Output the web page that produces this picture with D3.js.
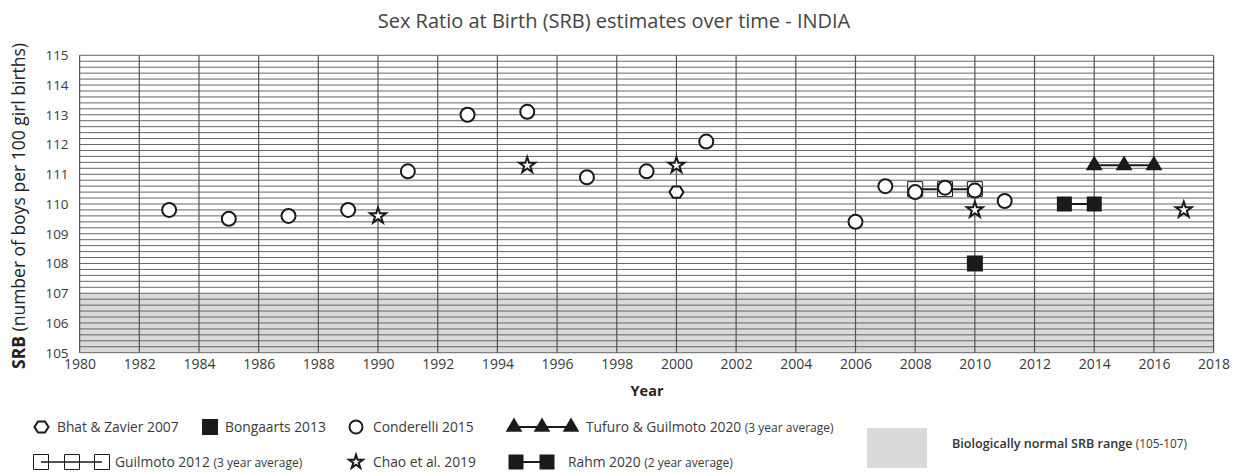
<!DOCTYPE html>
<html>
<head>
<meta charset="utf-8">
<script src="https://cdn.jsdelivr.net/npm/d3@7"></script>
<style>
  body { margin: 0; background: #fff; }
  svg { display: block; font-family: "Open Sans", sans-serif; }
</style>
</head>
<body>
<svg></svg>
<script>
width = 1237;
height = 472;

// data
conderelliYears = [1983, 1985, 1987, 1989, 1991, 1993, 1995, 1997, 1999, 2001, 2006, 2007, 2008, 2009, 2010, 2011];
conderelliSRB = [109.8, 109.5, 109.6, 109.8, 111.1, 113.0, 113.1, 110.9, 111.1, 112.1, 109.4, 110.6, 110.4, 110.55, 110.45, 110.1];
bhatYears = [2000];
bhatSRB = [110.4];
bongaartsYears = [2010];
bongaartsSRB = [108.0];
chaoYears = [1990, 1995, 2000, 2010, 2017];
chaoSRB = [109.6, 111.3, 111.3, 109.8, 109.8];
guilmotoYears = [2008, 2009, 2010];
guilmotoSRB = [110.5, 110.5, 110.5];
rahmYears = [2013, 2014];
rahmSRB = [110.0, 110.0];
tufuroYears = [2014, 2015, 2016];
tufuroSRB = [111.3, 111.3, 111.3];

xTicks = d3.range(1980, 2019, 2);
yTicks = d3.range(105, 116, 1);
normalRange = [105, 107];

zip = (xs, ys) => xs.map((x, i) => ({ x: x, y: ys[i] }));

svg = d3.select('svg')
  .attr('width', width)
  .attr('height', height);

x = d3.scaleLinear().domain([1980, 2018]).range([79.6, 1213.6]);
y = d3.scaleLinear().domain([105, 115]).range([352.7, 55.3]);

ink = '#1a1a1a';
textCol = '#3a3a3a';

// grey band of normal range
svg.append('rect')
  .attr('x', x(1980))
  .attr('y', y(normalRange[1]))
  .attr('width', x(2018) - x(1980))
  .attr('height', y(normalRange[0]) - y(normalRange[1]))
  .attr('fill', '#d9d9d9');

// fine horizontal grid every 0.2
svg.append('g')
  .selectAll('line')
  .data(d3.range(0, 51).map(i => 105 + i * 0.2))
  .enter().append('line')
  .attr('x1', x(1980))
  .attr('x2', x(2018))
  .attr('y1', d => y(d))
  .attr('y2', d => y(d))
  .attr('stroke', '#666')
  .attr('stroke-width', 1);

// vertical grid every 2 years
svg.append('g')
  .selectAll('line')
  .data(xTicks)
  .enter().append('line')
  .attr('x1', d => x(d))
  .attr('x2', d => x(d))
  .attr('y1', y(115))
  .attr('y2', y(105))
  .attr('stroke', '#555')
  .attr('stroke-width', 1.2);

// axes via d3 axis, lines removed
xAxis = svg.append('g')
  .attr('transform', `translate(0, ${y(105)})`)
  .call(d3.axisBottom(x).tickValues(xTicks).tickFormat(d3.format('d')).tickSize(0).tickPadding(6));
xAxis.select('.domain').remove();
xAxis.selectAll('text')
  .attr('font-size', 14)
  .attr('font-family', '"Open Sans", sans-serif')
  .attr('fill', textCol);

yAxis = svg.append('g')
  .attr('transform', `translate(${x(1980)}, 0)`)
  .call(d3.axisLeft(y).tickValues(yTicks).tickFormat(d3.format('d')).tickSize(0).tickPadding(11));
yAxis.select('.domain').remove();
yAxis.selectAll('text')
  .attr('font-size', 13.5)
  .attr('font-family', '"Open Sans", sans-serif')
  .attr('fill', textCol);

// titles
svg.append('text')
  .attr('x', 614)
  .attr('y', 28)
  .attr('text-anchor', 'middle')
  .attr('font-size', 20)
  .attr('fill', '#444')
  .text('Sex Ratio at Birth (SRB) estimates over time - INDIA');

svg.append('text')
  .attr('x', 647)
  .attr('y', 396)
  .attr('text-anchor', 'middle')
  .attr('font-size', 14.5)
  .attr('font-weight', 'bold')
  .attr('fill', '#222')
  .text('Year');

yTitle = svg.append('text')
  .attr('transform', 'translate(25, 206) rotate(-90)')
  .attr('text-anchor', 'middle')
  .attr('font-size', 17.5)
  .attr('fill', '#222');
yTitle.append('tspan').attr('font-weight', 'bold').text('SRB');
yTitle.append('tspan').text(' (number of boys per 100 girl births)');

// marker helpers
hexPath = r => {
  pts = d3.range(6).map(i => [r * Math.cos(i * Math.PI / 3), r * Math.sin(i * Math.PI / 3) * 0.92]);
  return 'M' + pts.map(p => p.join(',')).join('L') + 'Z';
};
starSym = d3.symbol().type(d3.symbolStar).size(78);
squareSym = s => d3.symbol().type(d3.symbolSquare).size(s * s)();
triSym = d3.symbol().type(d3.symbolTriangle).size(125);
line = d3.line().x(d => x(d.x)).y(d => y(d.y));

plot = svg.append('g');

// Guilmoto 2012: open squares joined by a line
plot.append('path')
  .attr('d', line(zip(guilmotoYears, guilmotoSRB)))
  .attr('fill', 'none').attr('stroke', ink).attr('stroke-width', 2);
plot.selectAll('.guil')
  .data(zip(guilmotoYears, guilmotoSRB))
  .enter().append('path')
  .attr('transform', d => `translate(${x(d.x)}, ${y(d.y)})`)
  .attr('d', squareSym(15))
  .attr('fill', '#fff').attr('stroke', ink).attr('stroke-width', 1);

// Rahm 2020
plot.append('path')
  .attr('d', line(zip(rahmYears, rahmSRB)))
  .attr('fill', 'none').attr('stroke', ink).attr('stroke-width', 2);
plot.selectAll('.rahm')
  .data(zip(rahmYears, rahmSRB))
  .enter().append('path')
  .attr('transform', d => `translate(${x(d.x)}, ${y(d.y)})`)
  .attr('d', squareSym(15))
  .attr('fill', ink);

// Tufuro & Guilmoto 2020
plot.append('path')
  .attr('d', line(zip(tufuroYears, tufuroSRB)))
  .attr('fill', 'none').attr('stroke', ink).attr('stroke-width', 2);
plot.selectAll('.tufuro')
  .data(zip(tufuroYears, tufuroSRB))
  .enter().append('path')
  .attr('transform', d => `translate(${x(d.x)}, ${y(d.y)})`)
  .attr('d', triSym())
  .attr('fill', ink);

// Bongaarts 2013
plot.selectAll('.bong')
  .data(zip(bongaartsYears, bongaartsSRB))
  .enter().append('path')
  .attr('transform', d => `translate(${x(d.x)}, ${y(d.y)})`)
  .attr('d', squareSym(16))
  .attr('fill', ink);

// Conderelli 2015
plot.selectAll('.cond')
  .data(zip(conderelliYears, conderelliSRB))
  .enter().append('circle')
  .attr('cx', d => x(d.x))
  .attr('cy', d => y(d.y))
  .attr('r', 7)
  .attr('fill', '#fff').attr('stroke', ink).attr('stroke-width', 2);

// Bhat & Zavier 2007
plot.selectAll('.bhat')
  .data(zip(bhatYears, bhatSRB))
  .enter().append('path')
  .attr('transform', d => `translate(${x(d.x)}, ${y(d.y)})`)
  .attr('d', hexPath(7))
  .attr('fill', '#fff').attr('stroke', ink).attr('stroke-width', 2);

// Chao et al. 2019
plot.selectAll('.chao')
  .data(zip(chaoYears, chaoSRB))
  .enter().append('path')
  .attr('transform', d => `translate(${x(d.x)}, ${y(d.y)})`)
  .attr('d', starSym())
  .attr('fill', '#fff').attr('stroke', ink).attr('stroke-width', 2);

// legend
leg = svg.append('g').attr('font-size', 13.8).attr('fill', textCol);
r1 = 427;
r2 = 462;
dy = 5;

leg.append('path').attr('transform', `translate(41.5, ${r1})`).attr('d', hexPath(7))
  .attr('fill', '#fff').attr('stroke', ink).attr('stroke-width', 2);
leg.append('text').attr('x', 57).attr('y', r1 + dy).text('Bhat & Zavier 2007');

leg.append('path').attr('transform', `translate(210, ${r1})`).attr('d', squareSym(16)).attr('fill', ink);
leg.append('text').attr('x', 225).attr('y', r1 + dy).text('Bongaarts 2013');

leg.append('circle').attr('cx', 356).attr('cy', r1).attr('r', 6.5)
  .attr('fill', '#fff').attr('stroke', ink).attr('stroke-width', 2);
leg.append('text').attr('x', 373).attr('y', r1 + dy).text('Conderelli 2015');

triX = [514, 542, 571];
leg.append('line').attr('x1', triX[0]).attr('x2', triX[2]).attr('y1', r1).attr('y2', r1)
  .attr('stroke', ink).attr('stroke-width', 2);
triX.forEach(tx => leg.append('path').attr('transform', `translate(${tx}, ${r1})`)
  .attr('d', d3.symbol().type(d3.symbolTriangle).size(120)()).attr('fill', ink));
t4 = leg.append('text').attr('x', 586).attr('y', r1 + dy);
t4.append('tspan').text('Tufuro & Guilmoto 2020 ');
t4.append('tspan').attr('font-size', 12).text('(3 year average)');

guX = [41, 72, 102];
leg.append('line').attr('x1', guX[0]).attr('x2', guX[2]).attr('y1', r2).attr('y2', r2)
  .attr('stroke', ink).attr('stroke-width', 1.5);
guX.forEach(gx => leg.append('path').attr('transform', `translate(${gx}, ${r2})`)
  .attr('d', squareSym(15)).attr('fill', 'none').attr('stroke', ink).attr('stroke-width', 1));
t5 = leg.append('text').attr('x', 115).attr('y', r2 + dy);
t5.append('tspan').text('Guilmoto 2012  ');
t5.append('tspan').attr('font-size', 12).text('(3 year average)');

leg.append('path').attr('transform', `translate(356, ${r2})`)
  .attr('d', d3.symbol().type(d3.symbolStar).size(60)())
  .attr('fill', '#fff').attr('stroke', ink).attr('stroke-width', 2);
leg.append('text').attr('x', 373).attr('y', r2 + dy).text('Chao et al. 2019');

rhX = [516, 547];
leg.append('line').attr('x1', rhX[0]).attr('x2', rhX[1]).attr('y1', r2).attr('y2', r2)
  .attr('stroke', ink).attr('stroke-width', 2);
rhX.forEach(rx => leg.append('path').attr('transform', `translate(${rx}, ${r2})`)
  .attr('d', squareSym(15)).attr('fill', ink));
t6 = leg.append('text').attr('x', 568).attr('y', r2 + dy);
t6.append('tspan').text('Rahm 2020 ');
t6.append('tspan').attr('font-size', 12).text('(2 year average)');

leg.append('rect').attr('x', 867).attr('y', 428).attr('width', 60).attr('height', 40).attr('fill', '#d9d9d9');
t7 = leg.append('text').attr('x', 952).attr('y', 448).attr('font-size', 12.6);
t7.append('tspan').attr('font-weight', 600).attr('fill', '#333').text('Biologically normal SRB range ');
t7.append('tspan').attr('font-size', 11.8).text('(105-107)');
</script>
</body>
</html>
